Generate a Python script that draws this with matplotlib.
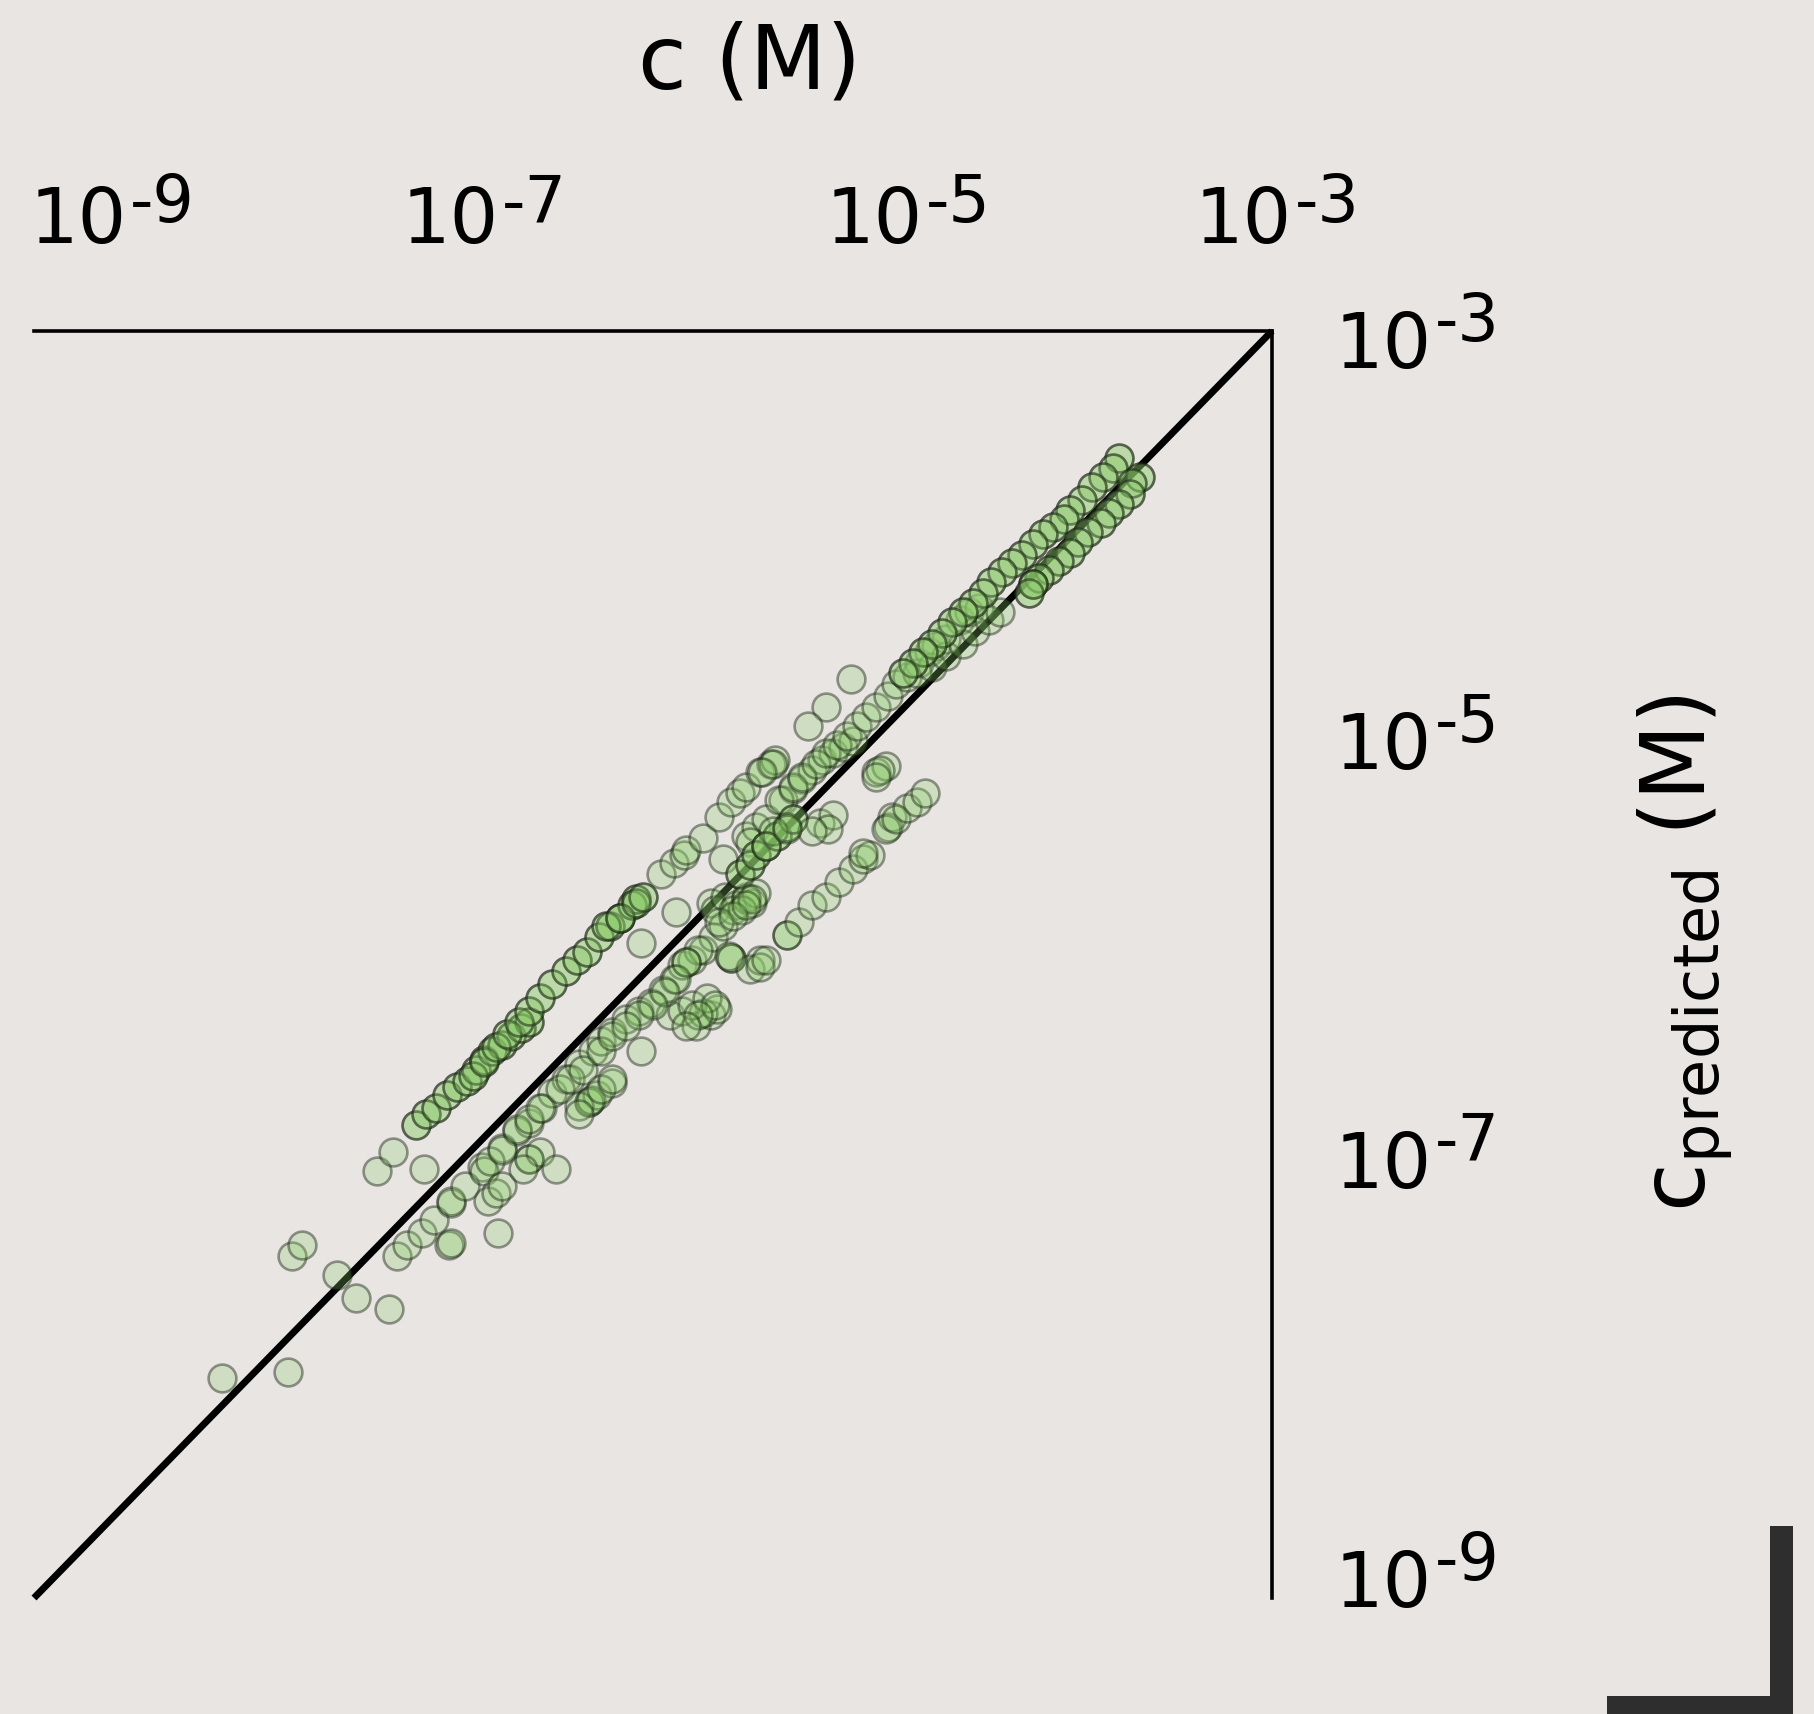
import numpy as np
import matplotlib
matplotlib.use("Agg")
from matplotlib import pyplot as plt
from matplotlib import transforms
from matplotlib.patches import Rectangle

plt.rcParams['font.family'] = ['DejaVu Sans']
plt.rcParams['mathtext.fontset'] = 'dejavusans'

# log10 de c medida y c predicha (M), leidos del grafico por grupos
# puntos sueltos abajo a la izquierda
bajo_x = [-8.09, -7.77, -7.75, -7.70, -7.53, -7.44, -7.28, -7.24, -7.19, -7.12, -7.06,
          -6.99, -6.98, -6.98, -7.34, -7.26, -7.11]
bajo_y = [-7.96, -7.93, -7.38, -7.33, -7.47, -7.58, -7.63, -7.38, -7.33, -7.27, -7.21,
          -7.33, -7.32, -7.13, -6.98, -6.89, -6.97]

# banda superior (sobre la diagonal), densa
sup_x = [-7.15, -7.10, -7.05, -7.00, -6.95, -6.90, -6.86, -6.82, -6.78, -6.73, -6.69, -6.64, -6.60,
         -6.87, -6.82, -6.76, -6.71, -6.65, -6.60, -6.55, -6.49, -6.42, -6.37, -6.32, -6.26, -6.21,
         -6.16, -6.10, -6.08, -6.23, -6.16, -6.08, -6.05]
sup_y = [-6.76, -6.71, -6.68, -6.62, -6.58, -6.55, -6.50, -6.45, -6.41, -6.38, -6.34, -6.30, -6.27,
         -6.53, -6.46, -6.39, -6.33, -6.27, -6.22, -6.16, -6.09, -6.03, -5.98, -5.94, -5.87, -5.82,
         -5.78, -5.72, -5.69, -5.82, -5.78, -5.71, -5.68]

# continuacion de la banda superior y puntos sueltos arriba
sup2_x = [-5.96, -5.90, -5.85, -5.84, -5.76, -5.68, -5.62, -5.58, -5.55, -5.48, -5.43, -5.41,
          -6.06, -5.89, -5.66, -5.04, -5.16, -5.25, -5.42, -5.47]
sup2_y = [-5.57, -5.52, -5.48, -5.46, -5.40, -5.30, -5.23, -5.19, -5.16, -5.09, -5.05, -5.03,
          -5.90, -5.75, -5.50, -4.65, -4.78, -4.87, -5.05, -5.09]

# zona media cerca de la diagonal
med_x = [-5.55, -5.50, -5.45, -5.53,
         -5.37, -5.32, -5.28, -5.23, -5.18, -5.13, -5.08, -5.03,
         -5.39, -5.32, -5.28, -5.21, -5.16, -5.11, -5.06, -5.01, -4.97, -4.92, -4.86, -4.82,
         -4.77, -4.71, -4.66, -4.63, -4.58, -4.51, -4.47, -4.42,
         -4.72, -4.65, -4.58, -4.50, -4.44, -4.37, -4.32,
         -5.72, -5.70, -5.65, -5.60, -5.55, -5.52]
med_y = [-5.39, -5.35, -5.31, -5.42,
         -5.22, -5.17, -5.12, -5.08, -5.03, -5.00, -4.97, -4.94,
         -5.22, -5.16, -5.11, -5.05, -5.00, -4.96, -4.92, -4.87, -4.83, -4.78, -4.73, -4.67,
         -4.64, -4.57, -4.52, -4.49, -4.46, -4.37, -4.33, -4.31,
         -4.62, -4.59, -4.54, -4.48, -4.42, -4.37, -4.33,
         -5.71, -5.74, -5.68, -5.72, -5.68, -5.71]

# grupo oscuro sobre la diagonal
diag_x = [-5.58, -5.53, -5.50, -5.45, -5.40, -5.35, -5.32]
diag_y = [-5.57, -5.53, -5.48, -5.44, -5.39, -5.35, -5.31]

# banda inferior pegada a la diagonal
inf_x = [-6.83, -6.73, -6.66, -6.60, -6.54, -6.49, -6.42, -6.36, -6.29, -6.25, -6.20, -6.13,
         -6.07, -6.01, -5.95, -5.90, -5.86, -5.81, -5.76, -5.71, -5.66, -5.61, -5.55, -5.50]
inf_y = [-6.96, -6.87, -6.79, -6.75, -6.68, -6.61, -6.54, -6.47, -6.41, -6.36, -6.32, -6.26,
         -6.22, -6.18, -6.12, -6.07, -6.00, -5.98, -5.93, -5.87, -5.82, -5.74, -5.69, -5.66]

# nube bajo la diagonal (izquierda)
nube_x = [-6.98, -6.91, -6.82, -6.80, -6.76, -6.73, -6.75, -6.79, -6.73, -6.66, -6.60, -6.55,
          -6.60, -6.60, -6.55, -6.63, -6.47, -6.45, -6.40, -6.34, -6.31, -6.31, -6.27, -6.20,
          -6.25, -6.20, -6.36, -6.30, -6.25, -6.20, -6.36, -6.06]
nube_y = [-7.12, -7.05, -6.98, -7.12, -7.08, -7.05, -7.27, -6.93, -6.88, -6.78, -6.73, -6.68,
          -6.92, -6.92, -6.89, -6.97, -6.97, -6.59, -6.54, -6.50, -6.65, -6.65, -6.62, -6.56,
          -6.41, -6.34, -6.67, -6.64, -6.59, -6.54, -6.71, -6.41]

# nube bajo la diagonal (centro)
cen_x = [-5.92, -5.86, -5.79, -5.72, -5.69, -5.76, -5.62, -5.62, -5.53, -5.48, -5.57, -5.52,
         -5.63, -5.78, -5.84, -5.84, -5.68, -5.61, -5.55, -5.48, -5.45, -5.89, -5.94, -6.00,
         -6.07, -6.13, -5.81, -5.74, -5.70, -5.78, -5.84]
cen_y = [-6.24, -6.22, -6.29, -6.24, -6.21, -6.23, -5.97, -5.97, -6.02, -5.98, -5.74, -5.69,
         -5.96, -5.93, -5.99, -5.99, -5.80, -5.77, -5.72, -6.01, -5.98, -6.07, -6.13, -6.19,
         -6.24, -6.29, -6.19, -6.16, -6.19, -6.24, -6.29]

# banda derecha (por debajo)
der_x = [-5.35, -5.35, -5.29, -5.23, -5.16, -5.10, -5.03, -4.98, -4.95,
         -4.92, -4.87, -4.90, -4.92, -4.86, -4.84,
         -4.87, -4.82, -4.77, -4.72, -4.68,
         -5.19, -5.13, -5.15, -5.23, -5.42, -5.45, -5.35, -4.98]
der_y = [-5.86, -5.86, -5.80, -5.72, -5.68, -5.61, -5.55, -5.50, -5.48,
         -5.09, -5.06, -5.08, -5.11, -5.35, -5.30,
         -5.36, -5.31, -5.26, -5.23, -5.19,
         -5.33, -5.29, -5.36, -5.37, -5.37, -5.44, -5.36, -5.47]

# banda de arriba a la derecha, dos filas
alto_x = [-3.74, -3.77, -3.82, -3.87, -3.92, -3.98, -4.01, -4.06, -4.11, -4.16, -4.21, -4.26,
          -4.31, -4.36, -4.40, -4.45, -4.50, -4.55, -4.60, -4.65, -4.69, -4.74, -4.79,
          -3.64, -3.68, -3.69, -3.74, -3.79, -3.83, -3.89, -3.94, -3.98, -4.03, -4.08, -4.13,
          -4.16, -4.16, -4.18]
alto_y = [-3.60, -3.65, -3.69, -3.74, -3.80, -3.85, -3.89, -3.93, -3.96, -4.01, -4.06, -4.10,
          -4.14, -4.19, -4.24, -4.29, -4.33, -4.38, -4.43, -4.48, -4.52, -4.57, -4.62,
          -3.69, -3.72, -3.77, -3.82, -3.86, -3.91, -3.95, -4.00, -4.05, -4.09, -4.13, -4.17,
          -4.20, -4.20, -4.24]

# (x, y, veces que se dibuja: 2 donde el original se ve mas oscuro)
grupos = [(bajo_x, bajo_y, 1), (sup_x, sup_y, 2), (sup2_x, sup2_y, 1), (med_x, med_y, 1),
          (diag_x, diag_y, 2), (inf_x, inf_y, 1), (nube_x, nube_y, 1), (cen_x, cen_y, 1),
          (der_x, der_y, 1), (alto_x, alto_y, 2)]

exponentes = [-9, -7, -5, -3]

fondo = '#e8e5e3'
W, H = 1814, 1714
fig = plt.figure(figsize=(W / 100, H / 100), dpi=100, facecolor=fondo)
ax = fig.add_axes([34 / W, 1 - 1598 / H, 1238 / W, 1267 / H])
ax.set_facecolor(fondo)
ax.set_xscale('log')
ax.set_yscale('log')
ax.set_xlim(1e-9, 1e-3)
ax.set_ylim(1e-9, 1e-3)

ax.plot([1e-9, 1e-3], [1e-9, 1e-3], color='black', lw=5, solid_capstyle='butt',
        zorder=2, clip_on=False)

for gx, gy, veces in grupos:
    for k in range(veces):
        ax.scatter(np.power(10.0, gx), np.power(10.0, gy), s=400,
                   facecolors=[(0.55, 0.80, 0.42, 0.27)],
                   edgecolors=[(0.10, 0.14, 0.08, 0.45)],
                   linewidths=1.9, zorder=3, clip_on=False)

for lado in ['left', 'bottom']:
    ax.spines[lado].set_visible(False)
for lado in ['top', 'right']:
    ax.spines[lado].set_linewidth(2.6)
    ax.spines[lado].set_color('black')

ax.set_xticks([10.0 ** e for e in exponentes])
ax.set_yticks([10.0 ** e for e in exponentes])
ax.minorticks_off()
ax.tick_params(which='both', length=0, labelbottom=False, labelleft=False,
               labeltop=False, labelright=False)

# etiquetas de los ticks: "10" y el exponente aparte (mas grande que en mathtext)
corrimiento = {-9: -4, -7: -45, -5: -34, -3: -77}
base_sup = []
for e in exponentes:
    tr = transforms.offset_copy(ax.get_xaxis_transform(), fig=fig, x=corrimiento[e], y=88, units='dots')
    base_sup.append(ax.text(10.0 ** e, 1, "10", transform=tr, ha='left', va='baseline', fontsize=55))

base_der = []
bajada = {-3: 37, -5: 16, -7: 12, -9: 9}
for e in exponentes:
    tr = transforms.offset_copy(ax.get_yaxis_transform(), fig=fig, x=63, y=-bajada[e], units='dots')
    base_der.append(ax.text(1, 10.0 ** e, "10", transform=tr, ha='left', va='baseline', fontsize=55))

fig.canvas.draw()
ident = transforms.IdentityTransform()
for t, e in zip(base_sup, exponentes):
    bb = t.get_window_extent()
    fig.text(bb.x1 + 3, (H - 243) + 21, "-" + str(-e), transform=ident,
             ha='left', va='baseline', fontsize=47)
for t, e in zip(base_der, exponentes):
    bb = t.get_window_extent()
    y_base = ax.transData.transform((1, 10.0 ** e))[1] - bajada[e]
    fig.text(bb.x1 + 3, y_base + 27, "-" + str(-e), transform=ident,
             ha='left', va='baseline', fontsize=47)

fig.text(750 / W, 1 - 89 / H, "c (M)", ha='center', va='baseline', fontsize=64)
fig.text(1705 / W, 1 - 953 / H, r'$\mathregular{c_{predicted}}$ (M)', rotation=90,
         rotation_mode='anchor', ha='center', va='baseline', fontsize=64)

# marca en L de la esquina
fig.add_artist(Rectangle((1770 / W, 0), 23 / W, 188 / H, transform=fig.transFigure,
                         color='#2e2e2e', lw=0))
fig.add_artist(Rectangle((1607 / W, 0), 186 / W, 18 / H, transform=fig.transFigure,
                         color='#2e2e2e', lw=0))

fig.savefig("out.png", dpi=100, facecolor=fondo)
